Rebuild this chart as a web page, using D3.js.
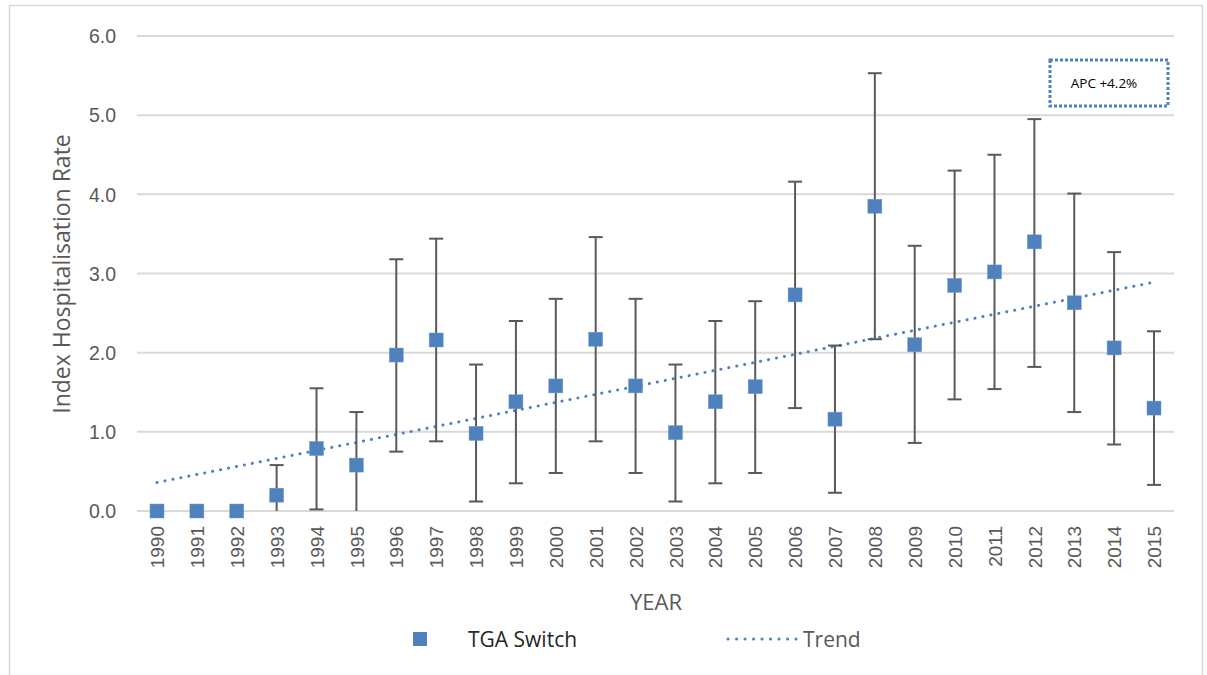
<!DOCTYPE html>
<html>
<head>
<meta charset="utf-8">
<script src="https://cdn.jsdelivr.net/npm/d3@7/dist/d3.min.js"></script>
<style>
  html, body { margin: 0; padding: 0; background: #fff; }
  svg { display: block; font-family: "Open Sans", "Noto Sans", sans-serif; }
</style>
</head>
<body>
<svg id="chart" width="1207" height="675"></svg>
<script>
// Index hospitalisation rate per year, with 95% confidence limits
const years = [1990, 1991, 1992, 1993, 1994, 1995, 1996, 1997, 1998, 1999,
               2000, 2001, 2002, 2003, 2004, 2005, 2006, 2007, 2008, 2009,
               2010, 2011, 2012, 2013, 2014, 2015];
const rates = [0.00, 0.00, 0.00, 0.20, 0.79, 0.58, 1.97, 2.16, 0.98, 1.38,
               1.58, 2.17, 1.58, 0.99, 1.38, 1.57, 2.73, 1.16, 3.85, 2.10,
               2.85, 3.02, 3.40, 2.63, 2.06, 1.30];
const upper = [null, null, null, 0.58, 1.55, 1.25, 3.18, 3.44, 1.85, 2.40,
               2.68, 3.46, 2.68, 1.85, 2.40, 2.65, 4.16, 2.09, 5.53, 3.35,
               4.30, 4.50, 4.95, 4.01, 3.27, 2.27];
const lower = [null, null, null, 0.00, 0.02, 0.00, 0.75, 0.88, 0.12, 0.35,
               0.48, 0.88, 0.48, 0.12, 0.35, 0.48, 1.30, 0.23, 2.17, 0.86,
               1.41, 1.54, 1.82, 1.25, 0.84, 0.33];
// Linear trend fitted across the period
const trendYears = [1990, 2015];
const trendValues = [0.36, 2.89];
const yTicks = [0, 1, 2, 3, 4, 5, 6];
const apcLabel = "APC +4.2%";

const svg = d3.select("#chart");
const textColor = "#595959";
const blue = "#4f81bd";

// outer chart frame
svg.append("rect")
  .attr("x", 9.5).attr("y", 5.5)
  .attr("width", 1193).attr("height", 700)
  .attr("fill", "none").attr("stroke", "#d9d9d9").attr("stroke-width", 1.5);

const plot = { left: 137, right: 1174, top: 36, bottom: 511 };

const x = d3.scalePoint()
  .domain(years)
  .range([157, 1154]);

const y = d3.scaleLinear()
  .domain([0, 6])
  .range([plot.bottom, plot.top]);

// horizontal gridlines
svg.append("g")
  .selectAll("line")
  .data(yTicks)
  .join("line")
  .attr("x1", plot.left).attr("x2", plot.right)
  .attr("y1", d => y(d)).attr("y2", d => y(d))
  .attr("stroke", "#d9d9d9").attr("stroke-width", 2);

// y axis labels
const yAxis = d3.axisLeft(y).tickValues(yTicks).tickFormat(d3.format(".1f")).tickSize(0).tickPadding(0);
const yG = svg.append("g").attr("transform", `translate(${plot.left - 21},0)`).call(yAxis);
yG.select(".domain").remove();
yG.selectAll("text")
  .attr("fill", textColor)
  .style("font-size", "19.5px")
  .attr("dy", "0.35em");

// x axis labels, rotated
const xAxis = d3.axisBottom(x).tickSize(0).tickPadding(0);
const xG = svg.append("g").attr("transform", `translate(0,${plot.bottom})`).call(xAxis);
xG.select(".domain").remove();
xG.selectAll("text")
  .attr("fill", textColor)
  .style("font-size", "19px")
  .attr("transform", "rotate(-90)")
  .attr("text-anchor", "end")
  .attr("x", -15)
  .attr("y", 0)
  .attr("dy", "0.35em");

// axis titles
svg.append("text")
  .attr("transform", `translate(70,274) rotate(-90)`)
  .attr("text-anchor", "middle")
  .attr("fill", textColor)
  .style("font-size", "23px")
  .text("Index Hospitalisation Rate");

svg.append("text")
  .attr("x", 656).attr("y", 610)
  .attr("text-anchor", "middle")
  .attr("fill", textColor)
  .style("font-size", "22px")
  .text("YEAR");

// trend line
const trendLine = d3.line()
  .x(d => x(d[0]))
  .y(d => y(d[1]));
svg.append("path")
  .datum(trendYears.map((yr, i) => [yr, trendValues[i]]))
  .attr("d", trendLine)
  .attr("fill", "none")
  .attr("stroke", blue)
  .attr("stroke-width", 3)
  .attr("stroke-linecap", "round")
  .attr("stroke-dasharray", "0.1 8");

// error bars
const errData = years.map((yr, i) => ({ yr, lo: lower[i], hi: upper[i] }))
  .filter(d => d.lo !== null && d.hi !== null);
const eg = svg.append("g").attr("stroke", "#595959").attr("stroke-width", 2);
eg.selectAll("line.bar").data(errData).join("line")
  .attr("class", "bar")
  .attr("x1", d => x(d.yr)).attr("x2", d => x(d.yr))
  .attr("y1", d => y(d.lo)).attr("y2", d => y(d.hi));
eg.selectAll("line.capHi").data(errData).join("line")
  .attr("class", "capHi")
  .attr("x1", d => x(d.yr) - 7).attr("x2", d => x(d.yr) + 7)
  .attr("y1", d => y(d.hi)).attr("y2", d => y(d.hi));
eg.selectAll("line.capLo").data(errData.filter(d => d.lo > 0)).join("line")
  .attr("class", "capLo")
  .attr("x1", d => x(d.yr) - 7).attr("x2", d => x(d.yr) + 7)
  .attr("y1", d => y(d.lo)).attr("y2", d => y(d.lo));

// square markers
const ms = 14;
svg.append("g")
  .selectAll("rect")
  .data(years.map((yr, i) => ({ yr, v: rates[i] })))
  .join("rect")
  .attr("x", d => x(d.yr) - ms / 2)
  .attr("y", d => y(d.v) - ms / 2)
  .attr("width", ms).attr("height", ms)
  .attr("fill", blue)
  .attr("stroke", "#6f9bd1").attr("stroke-width", 0.5);

// APC annotation box
svg.append("rect")
  .attr("x", 1050).attr("y", 60)
  .attr("width", 118).attr("height", 46)
  .attr("fill", "#fff")
  .attr("stroke", blue).attr("stroke-width", 3)
  .attr("stroke-dasharray", "3 2");
svg.append("text")
  .attr("x", 1104).attr("y", 88)
  .attr("text-anchor", "middle")
  .attr("fill", "#000")
  .style("font-size", "13.5px")
  .text(apcLabel);

// legend
const lg = svg.append("g");
lg.append("rect")
  .attr("x", 413).attr("y", 632)
  .attr("width", ms).attr("height", ms)
  .attr("fill", blue);
lg.append("text")
  .attr("x", 468).attr("y", 647)
  .attr("fill", "#262626")
  .style("font-size", "21px")
  .text("TGA Switch");
lg.append("line")
  .attr("x1", 728).attr("x2", 796)
  .attr("y1", 639).attr("y2", 639)
  .attr("stroke", blue).attr("stroke-width", 3)
  .attr("stroke-linecap", "round")
  .attr("stroke-dasharray", "0.1 8.4");
lg.append("text")
  .attr("x", 803).attr("y", 647)
  .attr("fill", textColor)
  .style("font-size", "21px")
  .text("Trend");
</script>
</body>
</html>
